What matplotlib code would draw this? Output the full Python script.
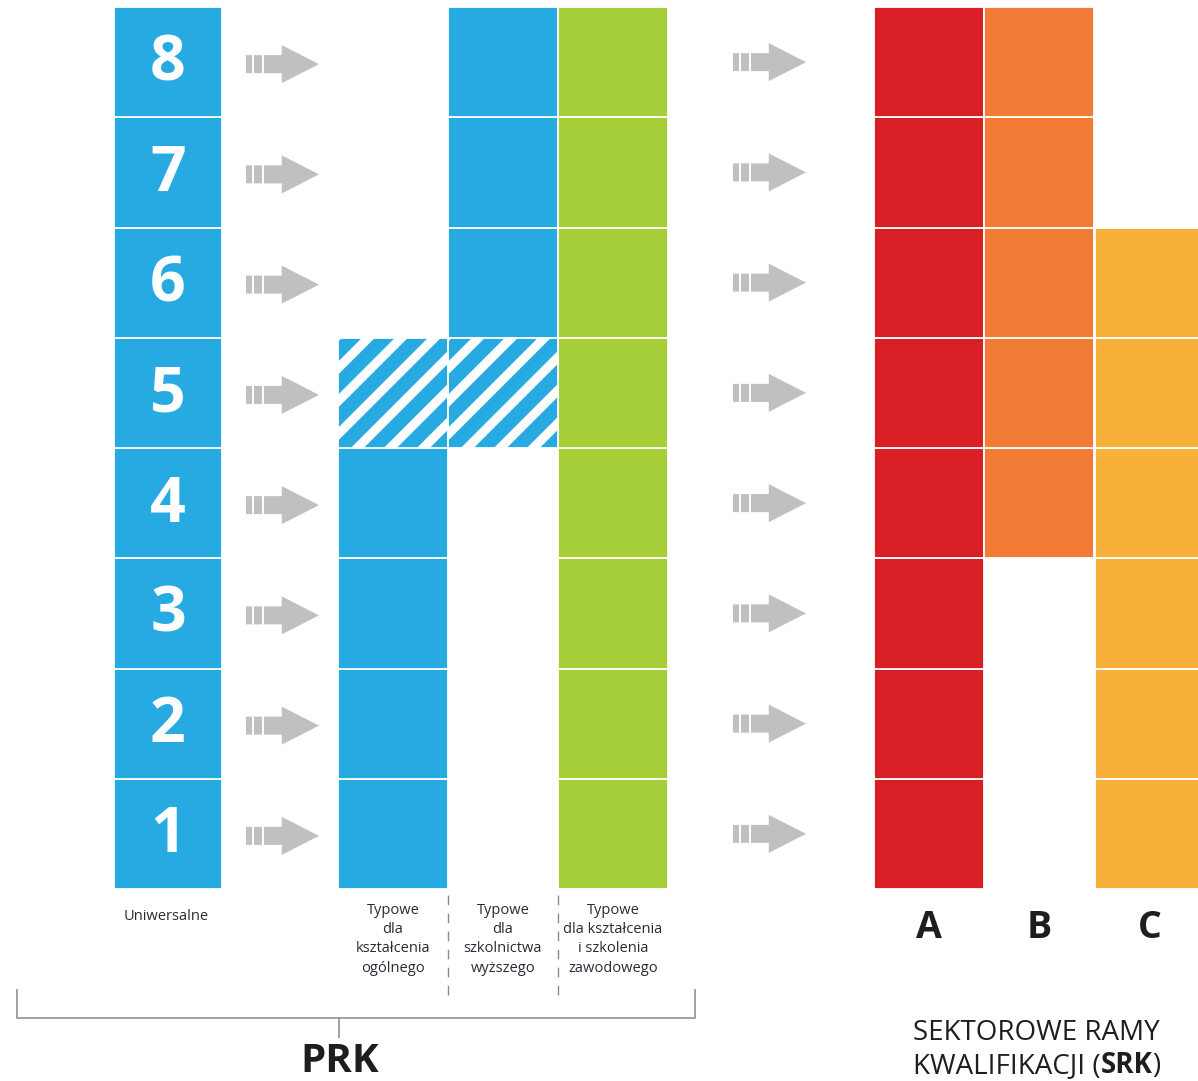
import matplotlib.pyplot as plt
from matplotlib.patches import Rectangle, Polygon
import numpy as np

# --- data -------------------------------------------------------------
levels = [1, 2, 3, 4, 5, 6, 7, 8]
universal_label = "Uniwersalne"
prk_columns = ["ogolne", "wyzsze", "zawodowe"]
prk_spans = [(1, 5), (5, 8), (1, 8)]          # lowest, highest level
prk_hatched = [[5], [5], []]                   # levels drawn striped
prk_labels = ["Typowe\ndla\nkształcenia\nogólnego",
              "Typowe\ndla\nszkolnictwa\nwyższego",
              "Typowe\ndla kształcenia\ni szkolenia\nzawodowego"]
srk_sectors = ["A", "B", "C"]
srk_spans = [(1, 8), (4, 8), (1, 6)]

# --- layout / style ---------------------------------------------------
W, H = 1198, 1081
top, row_h = 7, 110.25
uni_x, uni_w = 114, 108
prk_x = [338, 448, 558]
srk_x = [874, 984, 1095]
col_w = 110
arrow1_x, arrow2_x, arrow_len = 246, 733, 73
stripe_gap, stripe_off = 33, 14

blue = "#27aae1"
green = "#a6ce39"
prk_colors = [blue, blue, green]
srk_colors = ["#d91f26", "#f27b35", "#f7b03a"]
arrow_col = "#bfc0c2"
text_col = "#2a2a38"

fig = plt.figure(figsize=(W / 100, H / 100), dpi=100)
ax = fig.add_axes([0, 0, 1, 1])
ax.set_xlim(0, W)
ax.set_ylim(H, 0)
ax.axis("off")


def row_top(lv):
    return top + (8 - lv) * row_h


def cell(x, lv, color, w=col_w):
    ax.add_patch(Rectangle((x, row_top(lv)), w, row_h, facecolor=color,
                           edgecolor="white", lw=1.3, zorder=2))


def striped(x, lv, color, w=col_w):
    y0 = row_top(lv)
    r = Rectangle((x, y0), w, row_h, facecolor="white", edgecolor="none", zorder=2)
    ax.add_patch(r)
    # xt = where the stripe centre crosses the top edge of the cell
    for xt in np.arange(x + stripe_off - stripe_gap, x + w + row_h + stripe_gap, stripe_gap):
        ln, = ax.plot([xt - row_h - 10, xt + 10], [y0 + row_h + 10, y0 - 10],
                      color=color, lw=10.2, solid_capstyle="butt", zorder=3)
        ln.set_clip_path(r)
    ax.add_patch(Rectangle((x, y0), w, row_h, facecolor="none",
                           edgecolor="white", lw=1.3, zorder=4))


def arrow(x0, yc, L=arrow_len):
    mid = x0 + L * 0.49
    pts = [(x0, yc - 9), (mid, yc - 9), (mid, yc - 19), (x0 + L, yc),
           (mid, yc + 19), (mid, yc + 9), (x0, yc + 9)]
    ax.add_patch(Polygon(pts, closed=True, facecolor=arrow_col, edgecolor="none", zorder=2))
    for dx in (6.5, 16.5):
        ax.plot([x0 + dx, x0 + dx], [yc - 10, yc + 10], color="white", lw=1.4, zorder=3)


# universal column with numbers
for lv in levels:
    cell(uni_x, lv, blue, w=uni_w)
    yc = row_top(lv) + row_h / 2
    ax.text(uni_x + uni_w / 2, yc + 2, str(lv), color="white", fontsize=45,
            fontweight="bold", family="Open Sans", ha="center", va="center", zorder=5)
    arrow(arrow1_x, yc + 2)
    arrow(arrow2_x, yc)

# PRK columns
for x, (lo, hi), hat, c in zip(prk_x, prk_spans, prk_hatched, prk_colors):
    for lv in range(lo, hi + 1):
        if lv in hat:
            striped(x, lv, c)
        else:
            cell(x, lv, c)

# SRK columns
for x, (lo, hi), c in zip(srk_x, srk_spans, srk_colors):
    for lv in range(lo, hi + 1):
        cell(x, lv, c)

# labels under columns
ax.text(uni_x + uni_w / 2 - 2, 917, universal_label, fontsize=10.5, color=text_col,
        family="Open Sans", ha="center", va="center")
for x, lab in zip(prk_x, prk_labels):
    ax.text(x + col_w / 2, 903, lab, fontsize=10.5, color=text_col, family="Open Sans",
            ha="center", va="top", linespacing=1.38)
for x in prk_x[1:]:
    ax.plot([x, x], [895, 1000], color="#8a8a8a", lw=1, ls=(0, (7, 6)))

# bracket
ax.plot([17, 17, 695, 695], [990, 1018, 1018, 990], color="#9a9a9a", lw=1.3)
ax.plot([339, 339], [1018, 1037], color="#9a9a9a", lw=1.3)
ax.text(340, 1062, "PRK", fontsize=29, fontweight="bold", family="Open Sans",
        color="#1e1e1e", ha="center", va="center")

for x, s in zip(srk_x, srk_sectors):
    ax.text(x + col_w / 2, 928, s, fontsize=27, fontweight="bold", family="Open Sans",
            color="#1e1e1e", ha="center", va="center")

ax.text(913, 1040, "SEKTOROWE RAMY", fontsize=20, family="Open Sans",
        color="#1e1e1e", ha="left", va="baseline")
t1 = ax.text(913, 1073, "KWALIFIKACJI (", fontsize=20, family="Open Sans",
             color="#1e1e1e", ha="left", va="baseline")
t2 = ax.annotate("SRK", xy=(1, 0), xycoords=t1, fontsize=20, fontweight="bold",
                 family="Open Sans", color="#1e1e1e", ha="left", va="bottom")
ax.annotate(")", xy=(1, 0), xycoords=t2, fontsize=20, family="Open Sans",
            color="#1e1e1e", ha="left", va="bottom")

fig.savefig("out.png", dpi=100)
